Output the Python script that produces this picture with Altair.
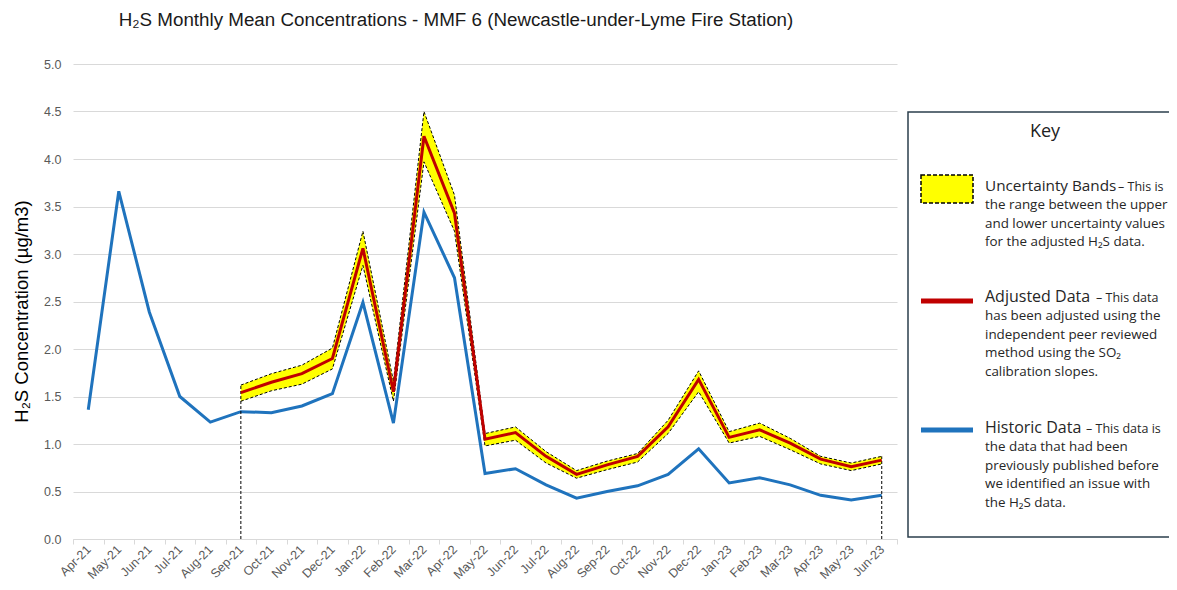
import altair as alt
import pandas as pd

months = ["Apr-21", "May-21", "Jun-21", "Jul-21", "Aug-21", "Sep-21", "Oct-21", "Nov-21",
          "Dec-21", "Jan-22", "Feb-22", "Mar-22", "Apr-22", "May-22", "Jun-22", "Jul-22",
          "Aug-22", "Sep-22", "Oct-22", "Nov-22", "Dec-22", "Jan-23", "Feb-23", "Mar-23",
          "Apr-23", "May-23", "Jun-23"]
historic = [1.36, 3.66, 2.39, 1.50, 1.23, 1.34, 1.33, 1.40, 1.53, 2.49, 1.22, 3.44, 2.75,
            0.69, 0.74, 0.57, 0.43, 0.50, 0.56, 0.68, 0.95, 0.59, 0.645, 0.57, 0.46, 0.41, 0.46]

adj_months = months[5:]
adjusted = [1.54, 1.65, 1.74, 1.90, 3.06, 1.55, 4.24, 3.43, 1.05, 1.12, 0.87, 0.68, 0.78,
            0.87, 1.18, 1.68, 1.07, 1.15, 1.01, 0.84, 0.76, 0.83]
upper = [1.62, 1.74, 1.83, 2.01, 3.24, 1.66, 4.50, 3.62, 1.11, 1.18, 0.92, 0.72, 0.82,
         0.90, 1.25, 1.77, 1.13, 1.22, 1.06, 0.87, 0.80, 0.87]
lower = [1.45, 1.56, 1.63, 1.79, 2.88, 1.45, 3.97, 3.24, 0.98, 1.04, 0.80, 0.64, 0.73,
         0.81, 1.11, 1.55, 1.01, 1.08, 0.94, 0.79, 0.72, 0.79]

y_ticks = [0, 0.5, 1.0, 1.5, 2.0, 2.5, 3.0, 3.5, 4.0, 4.5, 5.0]

title_text = "H₂S Monthly Mean Concentrations - MMF 6 (Newcastle-under-Lyme Fire Station)"
y_title = "H₂S Concentration (µg/m3)"

key_title = "Key"
unc_head = "Uncertainty Bands"
unc_dash = "– This is"
unc_body = ["the range between the upper", "and lower uncertainty values",
            "for the adjusted H₂S data."]
adj_head = "Adjusted Data"
adj_dash = "– This data"
adj_body = ["has been adjusted using the", "independent peer reviewed",
            "method using the SO₂", "calibration slopes."]
his_head = "Historic Data"
his_dash = "– This data is"
his_body = ["the data that had been", "previously published before",
            "we identified an issue with", "the H₂S data."]

hist_df = pd.DataFrame({"month": months, "value": historic})
adj_df = pd.DataFrame({"month": adj_months, "adjusted": adjusted, "upper": upper, "lower": lower})
edge_df = adj_df.iloc[[0, len(adj_df) - 1]].assign(zero=0.0)

W, H = 824, 475

xscale = alt.Scale(type="band", domain=months, paddingInner=0, paddingOuter=0)
xaxis = alt.Axis(title=None, labelAngle=-45, labelAlign="right", labelBaseline="middle",
                 labelFont="Liberation Sans", labelFontSize=12.5, labelColor="#595959",
                 labelPadding=3, tickBand="extent", tickColor="#d9d9d9", tickSize=5,
                 domainColor="#d9d9d9", grid=False)
yscale = alt.Scale(domain=[0, 5], nice=False)
yaxis = alt.Axis(title=y_title, values=y_ticks, format=".1f", grid=True, gridColor="#d9d9d9",
                 domain=False, ticks=False, labelFont="Liberation Sans", labelFontSize=12.5,
                 labelColor="#595959", labelPadding=12, titleFont="Liberation Sans",
                 titleFontSize=18.5, titleFontWeight="normal", titleColor="#000000",
                 titlePadding=12, titleY=247)


def X():
    return alt.X("month:N", sort=months, scale=xscale, bandPosition=0.5, axis=xaxis)


def Y(field):
    return alt.Y(f"{field}:Q", scale=yscale, axis=yaxis)


blue = "#1f73bd"
red = "#c00000"

hist_line = alt.Chart(hist_df).mark_line(color=blue, strokeWidth=3).encode(x=X(), y=Y("value"))

band = alt.Chart(adj_df).mark_area(color="#ffff00", opacity=1).encode(
    x=X(), y=Y("upper"), y2="lower:Q")
up_line = alt.Chart(adj_df).mark_line(color="#000000", strokeWidth=1, strokeDash=[3, 2]).encode(
    x=X(), y=Y("upper"))
lo_line = alt.Chart(adj_df).mark_line(color="#000000", strokeWidth=1, strokeDash=[3, 2]).encode(
    x=X(), y=Y("lower"))
edges = alt.Chart(edge_df).mark_rule(color="#000000", strokeWidth=1, strokeDash=[3, 2]).encode(
    x=X(), y=Y("zero"), y2="upper:Q")
adj_line = alt.Chart(adj_df).mark_line(color=red, strokeWidth=3).encode(x=X(), y=Y("adjusted"))

one = alt.Data(values=[{}])

# title
title_mark = alt.Chart(one).mark_text(
    text=title_text, x=383, y=-44, align="center", baseline="middle",
    font="Liberation Sans", fontSize=18.8, color="#1a1a1a")

# key box
KX = 835
box = alt.Chart(one).mark_rect(fill="white", stroke="#2b3f4c", strokeWidth=1.5).encode(
    x=alt.value(KX), x2=alt.value(1140), y=alt.value(48), y2=alt.value(473))
key_t = alt.Chart(one).mark_text(text=key_title, x=972, y=68, align="center", baseline="middle",
                                  font="Open Sans", fontSize=18, color="#222222")

sw_unc = alt.Chart(one).mark_rect(fill="#ffff00", stroke="#000000", strokeWidth=1.5,
                                   strokeDash=[4, 2]).encode(
    x=alt.value(848), x2=alt.value(900), y=alt.value(111), y2=alt.value(139))
sw_adj = alt.Chart(one).mark_rect(fill=red).encode(
    x=alt.value(848), x2=alt.value(900), y=alt.value(234.5), y2=alt.value(239.5))
sw_his = alt.Chart(one).mark_rect(fill=blue).encode(
    x=alt.value(848), x2=alt.value(900), y=alt.value(363.5), y2=alt.value(368.5))

TX = 912
text_color = "#262626"


def head(t, y, size):
    return alt.Chart(one).mark_text(text=t, x=TX, y=y, align="left", baseline="middle",
                                    font="Open Sans", fontSize=size, color=text_color)


def dash(t, x, y):
    return alt.Chart(one).mark_text(text=t, x=x, y=y + 1, align="left", baseline="middle",
                                    font="Open Sans", fontSize=12.5, color=text_color)


def body(lines, y):
    return alt.Chart(one).mark_text(text=lines, x=TX, y=y, align="left", baseline="middle",
                                    font="Open Sans", fontSize=13.4, lineHeight=18.7,
                                    color=text_color)


legend_layers = [
    box, key_t, sw_unc, sw_adj, sw_his,
    head(unc_head, 122, 15.3), dash(unc_dash, 1045, 122), body(unc_body, 141),
    head(adj_head, 233, 16), dash(adj_dash, 1023, 233), body(adj_body, 252),
    head(his_head, 364, 16), dash(his_dash, 1013, 364), body(his_body, 383),
]

chart = alt.layer(
    hist_line, band, up_line, lo_line, edges, adj_line, title_mark, *legend_layers
).properties(
    width=W, height=H,
    autosize=alt.AutoSizeParams(type="none"),
    padding={"left": 65, "top": 56, "right": 272, "bottom": 43},
    background="white",
).configure_view(stroke=None)

chart.save("out.html", embed_options={"renderer": "svg", "actions": False})
